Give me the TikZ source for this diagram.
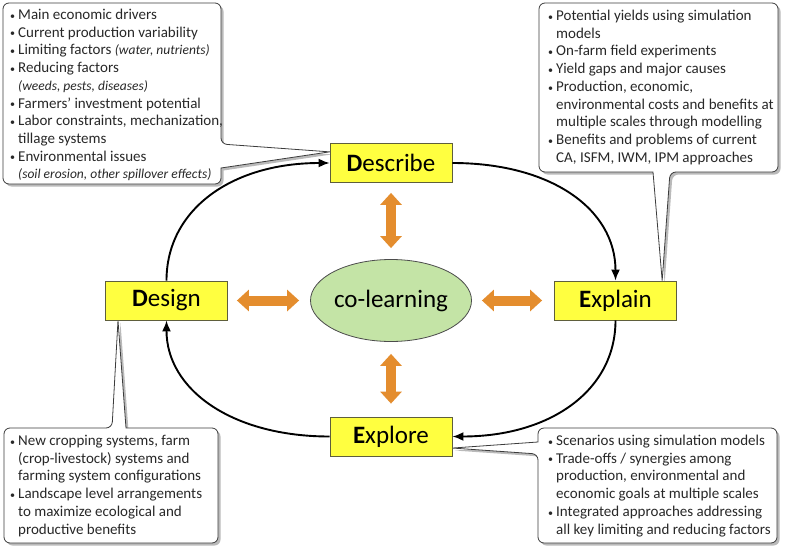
\documentclass[tikz,border=0pt]{standalone}
\usepackage{fontspec}
\setmainfont{Carlito}
\usetikzlibrary{shapes.geometric,arrows.meta,shadows,calc}
\definecolor{boxyellow}{RGB}{255,255,64}
\definecolor{boxborder}{RGB}{95,95,60}
\definecolor{clgreen}{RGB}{196,228,166}
\definecolor{arrorange}{RGB}{228,141,46}
\definecolor{callborder}{RGB}{60,60,60}
\definecolor{notetext}{RGB}{40,40,40}
\newcommand\bul{\makebox[8pt][l]{\raisebox{0.3pt}{\fontsize{10}{10}\selectfont\textbullet}}}
\newcommand\ind{\hspace*{8pt}}
\newcommand\itl[1]{{\fontsize{13.5}{17.7}\selectfont\itshape #1}}
\newcommand\ttl[2]{\textbf{#1}#2}
\pgfdeclarelayer{back}
\pgfdeclarelayer{bg}
\pgfsetlayers{back,bg,main}
\begin{document}
\begin{tikzpicture}[x=1pt,y=-1pt,
  stage/.style={draw=boxborder, line width=0.8pt, fill=boxyellow, minimum width=122pt, minimum height=39pt, inner sep=0pt, font=\fontsize{25}{30}\selectfont},
  hub/.style={ellipse, draw=black!70, line width=0.8pt, fill=clgreen, minimum width=146pt, minimum height=82pt, inner sep=0pt, font=\fontsize{25}{30}\selectfont},
  cyc/.style={line width=1.9pt, -{Latex[length=11pt,width=9pt]}},
  link/.style={arrorange, line width=10pt, {Triangle[length=12pt,width=21pt]}-{Triangle[length=12pt,width=21pt]}},
  callout/.style={draw=callborder, line width=0.8pt, fill=white, drop shadow={shadow xshift=2.5pt, shadow yshift=-2.5pt, opacity=0.45, fill=black!60}},
  notes/.style={anchor=north west, inner sep=0pt, align=left, text=notetext, font=\fontsize{15}{17.7}\selectfont}
]
\begin{pgfonlayer}{back}
\fill[white] (0,0) rectangle (787,554);
\end{pgfonlayer}
\useasboundingbox (0,0) rectangle (787,554);

% stages
\node[stage] (describe) at (391,163) {\ttl{D}{escribe}};
\node[stage] (explain) at (615.5,300.5) {\ttl{E}{xplain}};
\node[stage] (design) at (166.5,300.5) {\ttl{D}{esign}};
\node[stage] (explore) at (391,436.5) {\ttl{E}{xplore}};
\node[hub] (colearn) at (391,300.5) {co-learning};

% orange double arrows
\draw[link] ([yshift=-10pt]describe.south) -- ([yshift=11pt]colearn.north);
\draw[link] ([yshift=-12pt]colearn.south) -- ([yshift=13pt]explore.north);
\draw[link] ([xshift=9pt]design.east) -- ([xshift=-11pt]colearn.west);
\draw[link] ([xshift=10pt]colearn.east) -- ([xshift=-12pt]explain.west);

% cycle
\draw[cyc] (describe.east) .. controls +(98,0) and +(0,-72) .. (explain.north);
\draw[cyc] (explain.south) .. controls +(0,70) and +(98,0) .. (explore.east);
\draw[cyc] (explore.west) .. controls +(-98,0) and +(0,69) .. (design.south);
\draw[cyc] (design.north) .. controls +(0,-71) and +(-98,0) .. (describe.west);

% callout tips
\coordinate (tlTip) at ($(describe.north west)!0.22!(describe.south west)$);
\coordinate (trTip) at ($(explain.north west)!0.88!(explain.north east)$);
\coordinate (blTip) at ($(design.south west)!0.105!(design.south east)$);
\coordinate (brTip) at ($(explore.north east)!0.79!(explore.south east)$);

\begin{pgfonlayer}{bg}
\draw[callout] (112,3) [rounded corners=6pt] -- (221,3) -- (221,144) [sharp corners] -- (tlTip) -- (221,168) [rounded corners=6pt] -- (221,184) -- (3,184) -- (3,3) -- cycle;
\draw[callout] (539,90) [rounded corners=6pt] -- (539,3) -- (778,3) -- (778,172) -- (670,172) [sharp corners] -- (trTip) -- (653,172) [rounded corners=6pt] -- (539,172) -- cycle;
\draw[callout] (4,485) [rounded corners=6pt] -- (4,428) -- (112,428) [sharp corners] -- (blTip) -- (126,428) [rounded corners=6pt] -- (218,428) -- (218,543) -- (4,543) -- cycle;
\draw[callout] (650,428) [rounded corners=6pt] -- (777,428) -- (777,543) -- (538,543) -- (538,454) [sharp corners] -- (brTip) -- (538,442) [rounded corners=6pt] -- (538,428) -- cycle;
\end{pgfonlayer}

% notes
\node[notes] (tlText) at (10,7) {\strut\bul Main economic drivers\\
\bul Current production variability\\
\bul Limiting factors \itl{(water, nutrients)}\\
\bul Reducing factors\\
\ind\itl{(weeds, pests, diseases)}\\
\bul Farmers' investment potential\\
\bul Labor constraints, mechanization,\\
\ind tillage systems\\
\bul Environmental issues\\
\ind\itl{(soil erosion, other spillover effects)}};

\node[notes] (trText) at (548,8) {\strut\bul Potential yields using simulation\\
\ind models\\
\bul On-farm field experiments\\
\bul Yield gaps and major causes\\
\bul Production, economic,\\
\ind environmental costs and benefits at\\
\ind multiple scales through modelling\\
\bul Benefits and problems of current\\
\ind CA, ISFM, IWM, IPM approaches};

\node[notes] (blText) at (10,433) {\strut\bul New cropping systems, farm\\
\ind (crop-livestock) systems and\\
\ind farming system configurations\\
\bul Landscape level arrangements\\
\ind to maximize ecological and\\
\ind productive benefits};

\node[notes] (brText) at (548,433) {\strut\bul Scenarios using simulation models\\
\bul Trade-offs / synergies among\\
\ind production, environmental and\\
\ind economic goals at multiple scales\\
\bul Integrated approaches addressing\\
\ind all key limiting and reducing factors};
\end{tikzpicture}
\end{document}
